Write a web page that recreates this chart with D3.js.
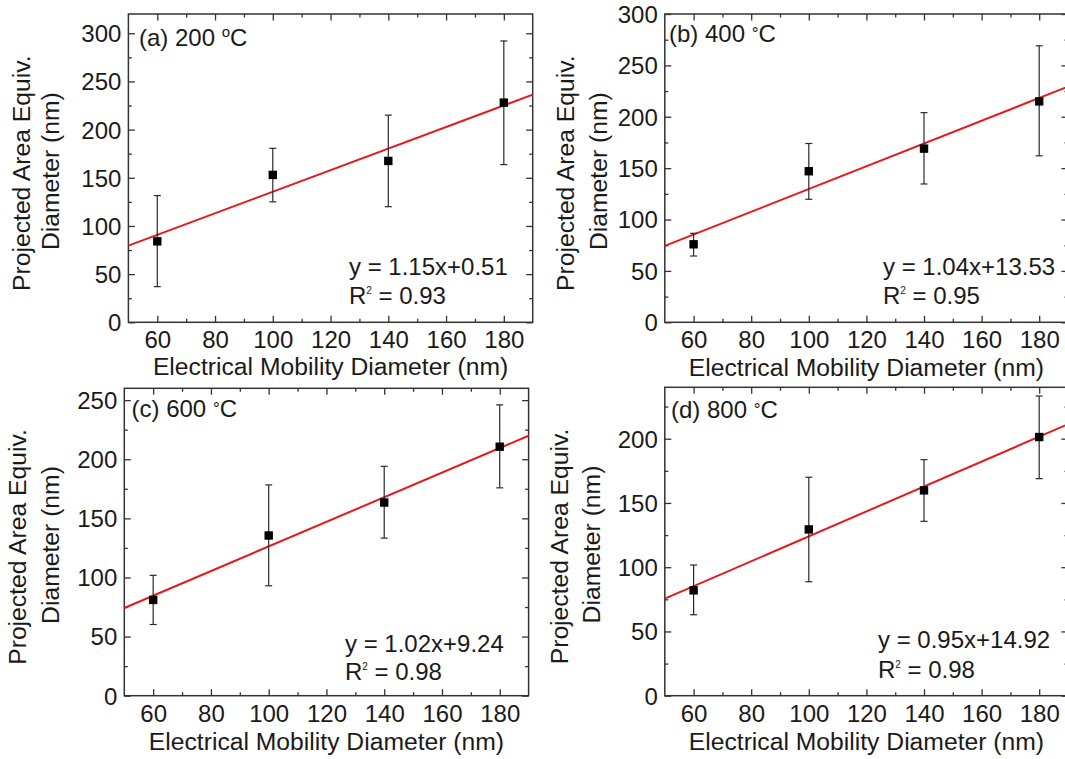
<!DOCTYPE html>
<html>
<head>
<meta charset="utf-8">
<script src="https://cdn.jsdelivr.net/npm/d3@7"></script>
<style>
  html, body { margin: 0; padding: 0; background: #fff; }
  svg { display: block; }
  text { font-family: Arial, "Liberation Sans", sans-serif; fill: #1a1a1a; }
</style>
</head>
<body>
<svg id="chart" width="1065" height="759"></svg>
<script>
// ---------------- data ----------------
const xCategories = [60, 100, 140, 180];
const xDomain = [50, 190];
const xMajorTicks = [60, 80, 100, 120, 140, 160, 180];
const xMinorTicks = [70, 90, 110, 130, 150, 170];

const panelLetters = ["(a)", "(b)", "(c)", "(d)"];
const panelTemps = ["200", "400", "600", "800"];

const meansA = [84, 153, 167.5, 228];
const upperA = [131.5, 180.6, 215, 292];
const lowerA = [37, 125, 120, 163.7];

const meansB = [75.9, 147, 169, 215];
const upperB = [86.6, 174, 204, 269];
const lowerB = [64.5, 119.7, 134.6, 162];

const meansC = [81, 135.5, 163.4, 210.6];
const upperC = [101.8, 178.3, 194, 246];
const lowerC = [60.2, 93, 133.3, 175.8];

const meansD = [82, 129.4, 159.8, 201.3];
const upperD = [101.7, 170, 183.7, 233.2];
const lowerD = [63, 88.7, 135.7, 168.9];

// drawn fit line, value at x = 50 and at x = 190
const fitAt50 = [79.6, 74.3, 74.2, 75.5];
const fitAt190 = [236.3, 229.4, 219.9, 211.3];

const equations = ["y = 1.15x+0.51", "y = 1.04x+13.53", "y = 1.02x+9.24", "y = 0.95x+14.92"];
const r2Values = ["0.93", "0.95", "0.98", "0.98"];

const yMaxes = [320, 300, 260, 240];
const yTickTops = [300, 300, 250, 200];

const xTitle = "Electrical Mobility Diameter (nm)";
const yTitleLine1 = "Projected Area Equiv.";
const yTitleLine2 = "Diameter (nm)";

// ---------------- layout ----------------
const layout = [
  { left: 128.4, right: 532.7, top: 14,    bottom: 322.3, eqX: 349, eqY: 275, r2Y: 303.5, labX: 139, labY: 45.7, yl1: 30, yl2: 59, xtDy: 53 },
  { left: 664.8, right: 1068,  top: 14,    bottom: 322.3, eqX: 883, eqY: 275, r2Y: 304,   labX: 669, labY: 41.7, yl1: 574, yl2: 607, xtDy: 54 },
  { left: 124.3, right: 528.6, top: 388.3, bottom: 695.7, eqX: 345, eqY: 651.7, r2Y: 680, labX: 131.5, labY: 416.7, yl1: 26, yl2: 59, xtDy: 54 },
  { left: 664.8, right: 1068,  top: 387.3, bottom: 695.7, eqX: 878, eqY: 648.3, r2Y: 678.3, labX: 671, labY: 418.3, yl1: 568, yl2: 600, xtDy: 54 }
];

const series = [
  { means: meansA, upper: upperA, lower: lowerA },
  { means: meansB, upper: upperB, lower: lowerB },
  { means: meansC, upper: upperC, lower: lowerC },
  { means: meansD, upper: upperD, lower: lowerD }
];

const svg = d3.select("#chart");
const FONT = 24;
const TITLE_FONT = 24.7;
const frameColor = "#333";
const majorLen = 6.5, minorLen = 3.5;

layout.forEach((L, i) => {
  const x = d3.scaleLinear().domain(xDomain).range([L.left, L.right]);
  const y = d3.scaleLinear().domain([0, yMaxes[i]]).range([L.bottom, L.top]);
  const g = svg.append("g");

  const yMajor = d3.range(0, yTickTops[i] + 1, 50);
  const yMinor = d3.range(25, yMaxes[i], 50);

  const mkAxis = (axisFn, scale, values, len) =>
    axisFn(scale).tickValues(values).tickSize(len).tickFormat("");

  const addAxis = (axis, tx, ty) => {
    const a = g.append("g").attr("transform", `translate(${tx},${ty})`).call(axis);
    a.select(".domain").remove();
    a.selectAll("line").attr("stroke", frameColor).attr("stroke-width", 1.3);
    return a;
  };
  addAxis(mkAxis(d3.axisTop, x, xMajorTicks, majorLen), 0, L.bottom);
  addAxis(mkAxis(d3.axisTop, x, xMinorTicks, minorLen), 0, L.bottom);
  addAxis(mkAxis(d3.axisBottom, x, xMajorTicks, majorLen), 0, L.top);
  addAxis(mkAxis(d3.axisBottom, x, xMinorTicks, minorLen), 0, L.top);
  addAxis(mkAxis(d3.axisRight, y, yMajor, majorLen), L.left, 0);
  addAxis(mkAxis(d3.axisRight, y, yMinor, minorLen), L.left, 0);
  addAxis(mkAxis(d3.axisLeft, y, yMajor, majorLen), L.right, 0);
  addAxis(mkAxis(d3.axisLeft, y, yMinor, minorLen), L.right, 0);

  // tick labels
  const xl = d3.axisBottom(x).tickValues(xMajorTicks).tickSize(0).tickPadding(0).tickFormat(d3.format("d"));
  const xla = g.append("g").attr("transform", `translate(0,${L.bottom})`).call(xl);
  xla.select(".domain").remove();
  xla.selectAll("text").attr("font-size", FONT).attr("font-family", null).attr("fill", "#1a1a1a").attr("dy", null).attr("y", 26);

  const yl = d3.axisLeft(y).tickValues(yMajor).tickSize(0).tickPadding(0).tickFormat(d3.format("d"));
  const yla = g.append("g").attr("transform", `translate(${L.left},0)`).call(yl);
  yla.select(".domain").remove();
  yla.selectAll("text").attr("font-size", FONT).attr("font-family", null).attr("fill", "#1a1a1a").attr("x", -7).attr("dy", "0.35em");

  // frame
  g.append("rect")
    .attr("x", L.left).attr("y", L.top)
    .attr("width", L.right - L.left).attr("height", L.bottom - L.top)
    .attr("fill", "none").attr("stroke", frameColor).attr("stroke-width", 1.5);

  // fit line
  g.append("line")
    .attr("x1", x(xDomain[0])).attr("y1", y(fitAt50[i]))
    .attr("x2", x(xDomain[1])).attr("y2", y(fitAt190[i]))
    .attr("stroke", "#e8171c").attr("stroke-width", 2);

  // error bars + markers
  const s = series[i];
  const pts = xCategories.map((c, k) => ({ c, m: s.means[k], hi: s.upper[k], lo: s.lower[k] }));
  const eb = g.append("g").attr("stroke", "#2a2a2a").attr("stroke-width", 1.2);
  eb.selectAll(".v").data(pts).join("line")
    .attr("x1", d => x(d.c)).attr("x2", d => x(d.c))
    .attr("y1", d => y(d.hi)).attr("y2", d => y(d.lo));
  eb.selectAll(".ct").data(pts).join("line")
    .attr("x1", d => x(d.c) - 3.5).attr("x2", d => x(d.c) + 3.5)
    .attr("y1", d => y(d.hi)).attr("y2", d => y(d.hi));
  eb.selectAll(".cb").data(pts).join("line")
    .attr("x1", d => x(d.c) - 3.5).attr("x2", d => x(d.c) + 3.5)
    .attr("y1", d => y(d.lo)).attr("y2", d => y(d.lo));
  g.selectAll(".mk").data(pts).join("rect")
    .attr("x", d => x(d.c) - 4.2).attr("y", d => y(d.m) - 4.2)
    .attr("width", 8.4).attr("height", 8.4).attr("fill", "#000");

  // panel label
  const lab = g.append("text").attr("x", L.labX).attr("y", L.labY).attr("font-size", FONT);
  lab.append("tspan").text(`${panelLetters[i]} ${panelTemps[i]} `);
  if (i === 0) {
    lab.append("tspan").attr("font-size", 15).attr("dy", -9).text("o");
    lab.append("tspan").attr("dy", 9).text("C");
  } else {
    lab.append("tspan").attr("font-size", 17).attr("dy", -3).text("°");
    lab.append("tspan").attr("dy", 3).text("C");
  }

  // equation
  g.append("text").attr("x", L.eqX).attr("y", L.eqY).attr("font-size", FONT).text(equations[i]);
  const r2 = g.append("text").attr("x", L.eqX).attr("y", L.r2Y).attr("font-size", FONT);
  r2.append("tspan").text("R");
  r2.append("tspan").attr("font-size", 10).attr("dy", -10).text("2");
  r2.append("tspan").attr("dy", 10).text(" = " + r2Values[i]);

  // axis titles
  const cx = (L.left + L.right) / 2;
  g.append("text").attr("x", cx).attr("y", L.bottom + L.xtDy)
    .attr("text-anchor", "middle").attr("font-size", TITLE_FONT).text(xTitle);

  const cy = (L.top + L.bottom) / 2 + 5;
  g.append("text").attr("transform", `translate(${L.yl1},${cy}) rotate(-90)`)
    .attr("text-anchor", "middle").attr("font-size", TITLE_FONT).text(yTitleLine1);
  g.append("text").attr("transform", `translate(${L.yl2},${cy - 2}) rotate(-90)`)
    .attr("text-anchor", "middle").attr("font-size", TITLE_FONT).text(yTitleLine2);
});
</script>
</body>
</html>
